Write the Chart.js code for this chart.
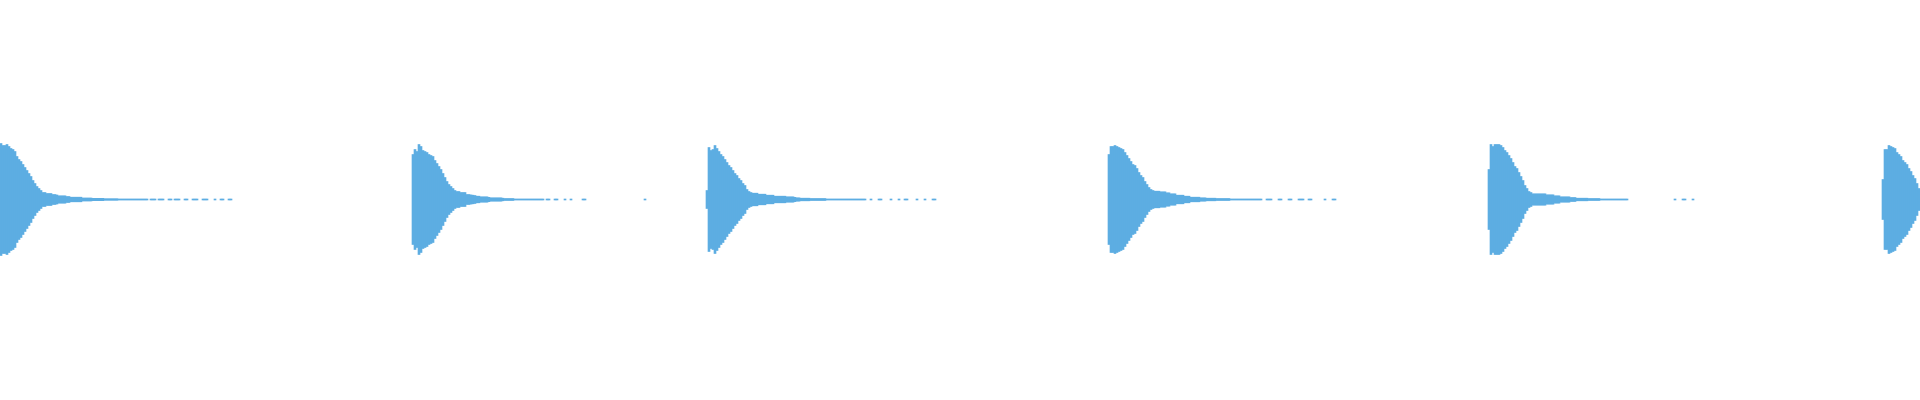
<!DOCTYPE html>
<html>
<head>
<meta charset="utf-8">
<title>Waveform</title>
<script src="https://cdn.jsdelivr.net/npm/chart.js@4.4.1/dist/chart.umd.min.js"></script>
<style>
  html, body { margin: 0; padding: 0; background: #fff; }
  #wrap { width: 1920px; height: 400px; position: relative; }
</style>
</head>
<body>
<div id="wrap"><canvas id="wave"></canvas></div>
<script>
// peak amplitude per sample (one sample = one bar)
const sampleCount = 960;
const burstStarts = [0, 206, 353, 554, 744, 941];

const burst1 = [
  56, 54, 54, 55, 53, 51, 50, 48, 43, 40,
  38, 35, 32, 29, 26, 23, 19, 16, 13, 11,
  9, 7, 7, 6, 6, 6, 5, 5, 4.5, 3.7,
  3.7, 3.7, 3.7, 3, 3, 2.3, 2.3, 2.3, 2.3, 2.3,
  2.3, 1.5, 1.5, 1.5, 1.5, 1.5, 1.2, 1.2, 1.2, 1.2,
  1.2, 1.2, 0.8, 0.8, 0.8, 0.8, 0.8, 0.8, 0.8, 0.5,
  0.5, 0.5, 0.5, 0.5, 0.5, 0.5, 0.5, 0.5, 0.5, 0.5,
  0.5, 0.5, 0.5, 0.5, 0, 0.5, 0.5, 0.5, 0, 0.5,
  0.5, 0.5, 0, 0, 0.5, 0.5, 0, 0.5, 0.5, 0.5,
  0, 0, 0.5, 0.5, 0, 0, 0.5, 0.5, 0.5, 0,
  0, 0.5, 0.5, 0.5, 0, 0, 0, 0.5, 0, 0,
  0.5, 0.5, 0, 0, 0.5, 0.5
];

const burst2 = [
  45, 50, 48, 55, 53, 49, 48, 47, 45, 44,
  43, 39, 36, 33, 30, 26, 22, 18, 15, 13,
  11, 9, 8, 8, 7, 7, 7, 5, 5, 4.6,
  4.3, 4, 3.3, 3.3, 2.7, 2.7, 2.7, 2.7, 2.2, 1.7,
  1.7, 1.7, 1.7, 1.7, 1.7, 1.3, 1, 1, 1, 1,
  1, 0.5, 0.5, 0.5, 0.5, 0.5, 0.5, 0.5, 0.5, 0.5,
  0.5, 0.5, 0.5, 0.5, 0.5, 0.5, 0, 0.5, 0.5, 0,
  0, 0.5, 0.5, 0, 0, 0, 0.5, 0, 0, 0.5,
  0, 0, 0, 0, 0, 0.5, 0.5, 0, 0, 0,
  0, 0, 0, 0, 0, 0, 0, 0, 0, 0,
  0, 0, 0, 0, 0, 0, 0, 0, 0, 0,
  0, 0, 0, 0, 0, 0, 0.5
];

const burst3 = [
  9, 52, 49, 50, 54, 51, 48, 45, 43, 40,
  37, 34, 32, 29, 26, 24, 21, 19, 16, 14,
  10, 8, 7, 6.3, 6.3, 6.3, 5.3, 5.3, 5.3, 5.3,
  4.3, 4.3, 4.3, 4.3, 3.3, 3.3, 3.3, 3.3, 3.3, 3.3,
  2.7, 2.7, 2.7, 2.7, 2.2, 1.7, 1.7, 1.3, 1.3, 1.3,
  1.3, 1.3, 1, 1, 1, 1, 1, 1, 1, 1,
  0.5, 0.5, 0.5, 0.5, 0.5, 0.5, 0.5, 0.5, 0.5, 0.5,
  0.5, 0.5, 0.5, 0.5, 0.5, 0.5, 0.5, 0.5, 0.5, 0.5,
  0, 0, 0.5, 0, 0, 0, 0.5, 0.5, 0, 0,
  0, 0, 0.5, 0, 0, 0, 0.5, 0, 0, 0.5,
  0.5, 0, 0, 0, 0, 0.5, 0, 0, 0, 0.5,
  0, 0, 0, 0.5, 0.5
];

const burst4 = [
  45, 53, 53, 54, 53, 52, 51, 50, 47, 44,
  41, 38, 35, 34, 31, 27, 24, 22, 18, 15,
  12, 10, 9, 8.3, 8.3, 8.3, 7.7, 7.7, 7.7, 6.7,
  6.7, 5.7, 5.7, 5.7, 4.3, 4.3, 4.3, 4.3, 3.3, 3.3,
  3.3, 2.3, 2.3, 2.3, 2.3, 2.3, 1.7, 1.7, 1.7, 1.3,
  1.3, 1.3, 1.3, 1.3, 1, 1, 1, 1, 1, 1,
  1, 0.5, 0.5, 0.5, 0.5, 0.5, 0.5, 0.5, 0.5, 0.5,
  0.5, 0.5, 0.5, 0.5, 0.5, 0.5, 0.5, 0, 0, 0.5,
  0.5, 0.5, 0, 0, 0, 0.5, 0.5, 0, 0, 0,
  0.5, 0.5, 0, 0, 0, 0.5, 0.5, 0.5, 0, 0,
  0.5, 0.5, 0, 0, 0, 0, 0, 0, 0.5, 0,
  0, 0, 0.5, 0.5
];

const burst5 = [
  30, 55, 53, 55, 55, 55, 54, 52, 49, 47,
  44, 41, 37, 33, 31, 27, 23, 19, 14, 11,
  8, 7, 5.7, 5.7, 5.7, 5.7, 5.7, 5.7, 5.7, 4.7,
  4.7, 4.7, 4.7, 3.7, 3.7, 3.7, 2.7, 2.7, 2.7, 2.7,
  2.7, 2, 2, 2, 1.3, 1.3, 1.3, 1.3, 1.3, 1.3,
  1, 1, 1, 1, 1, 1, 0.5, 0.5, 0.5, 0.5,
  0.5, 0.5, 0.5, 0.5, 0.5, 0.5, 0.5, 0.5, 0.5, 0.5,
  0, 0, 0, 0, 0, 0, 0, 0, 0, 0,
  0, 0, 0, 0, 0, 0, 0, 0, 0, 0,
  0, 0, 0, 0.5, 0, 0, 0, 0.5, 0.5, 0,
  0, 0, 0.5
];

const burst6 = [
  20, 50, 50, 54, 53, 52, 51, 47, 45, 43,
  39, 37, 35, 31, 28, 24, 21, 16, 11
];

const bursts = [burst1, burst2, burst3, burst4, burst5, burst6];

// lay the bursts out on the full timeline, gaps stay empty
const peaks = new Array(sampleCount).fill(null);
bursts.forEach((b, k) => {
  b.forEach((v, i) => {
    if (v > 0) peaks[burstStarts[k] + i] = v;
  });
});

const labels = peaks.map((_, i) => i);
const bars = peaks.map(v => (v === null ? null : [-v, v]));

new Chart(document.getElementById("wave"), {
  type: "bar",
  data: {
    labels: labels,
    datasets: [{
      data: bars,
      backgroundColor: "#5dade2",
      borderWidth: 0,
      barPercentage: 1,
      categoryPercentage: 1
    }]
  },
  options: {
    responsive: true,
    maintainAspectRatio: false,
    animation: false,
    layout: { padding: 0 },
    plugins: {
      legend: { display: false },
      tooltip: { enabled: false }
    },
    scales: {
      x: { display: false },
      y: { display: false, min: -200.5, max: 199.5 }
    }
  }
});
</script>
</body>
</html>
